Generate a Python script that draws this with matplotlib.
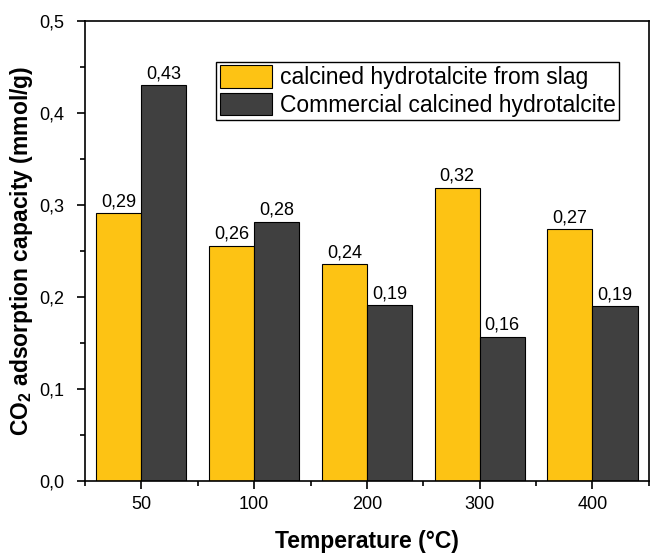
import numpy as np
import matplotlib
matplotlib.use("Agg")
import matplotlib.pyplot as plt
from matplotlib.ticker import MultipleLocator, FuncFormatter

plt.rcParams['font.family'] = ['Liberation Sans', 'DejaVu Sans']
plt.rcParams['mathtext.fontset'] = 'custom'
plt.rcParams['mathtext.rm'] = 'Liberation Sans'
plt.rcParams['mathtext.bf'] = 'Liberation Sans:bold'

# Data
temps = ["50", "100", "200", "300", "400"]
slag = [0.291, 0.256, 0.236, 0.319, 0.274]
commercial = [0.430, 0.282, 0.191, 0.157, 0.190]
series_names = ["calcined hydrotalcite from slag", "Commercial calcined hydrotalcite"]

c_slag = "#FDC314"
c_comm = "#404040"

fig = plt.figure(figsize=(6.51, 5.53), dpi=100)
ax = fig.add_axes([0.1306, 0.130, 0.866, 0.832])

x = np.arange(1, len(temps) + 1)
w = 0.4
b1 = ax.bar(x - w / 2, slag, w, color=c_slag, edgecolor="black", linewidth=0.8, label=series_names[0])
b2 = ax.bar(x + w / 2, commercial, w, color=c_comm, edgecolor="black", linewidth=0.8, label=series_names[1])

fmt = lambda v: f"{v:.2f}".replace(".", ",")
for bars, vals in [(b1, slag), (b2, commercial)]:
    for r, v in zip(bars, vals):
        ax.text(r.get_x() + r.get_width() / 2, v + 0.003, fmt(v),
                ha="center", va="bottom", fontsize=13)

ax.set_xlim(0.5, 5.5)
ax.set_ylim(0, 0.5)
ax.set_xticks(x)
ax.set_xticklabels(temps)
ax.xaxis.set_minor_locator(MultipleLocator(1, offset=0.5))
ax.yaxis.set_major_locator(MultipleLocator(0.1))
ax.yaxis.set_minor_locator(MultipleLocator(0.05))
ax.yaxis.set_major_formatter(FuncFormatter(lambda v, p: f"{v:.1f}".replace(".", ",")))

ax.tick_params(which="major", direction="out", length=6, width=1.2, labelsize=13)
ax.tick_params(which="minor", direction="out", length=3.5, width=1.2)
ax.tick_params(axis="y", which="major", pad=9)
ax.tick_params(axis="x", which="major", pad=5)
for s in ax.spines.values():
    s.set_linewidth(1.2)

ax.set_xlabel("Temperature (°C)", fontsize=16.5, fontweight="bold", labelpad=12)
ax.set_ylabel(r"CO$_\mathbf{2}$ adsorption capacity (mmol/g)", fontsize=16.5, fontweight="bold", labelpad=3)

ax.legend(loc="upper right", bbox_to_anchor=(0.947, 0.911), fontsize=16.5, frameon=True,
          fancybox=False, edgecolor="black", framealpha=1, handlelength=2.27, handleheight=1.13,
          handletextpad=0.35, borderpad=0.15, labelspacing=0.15, borderaxespad=0)

fig.savefig("out.png", dpi=100)
